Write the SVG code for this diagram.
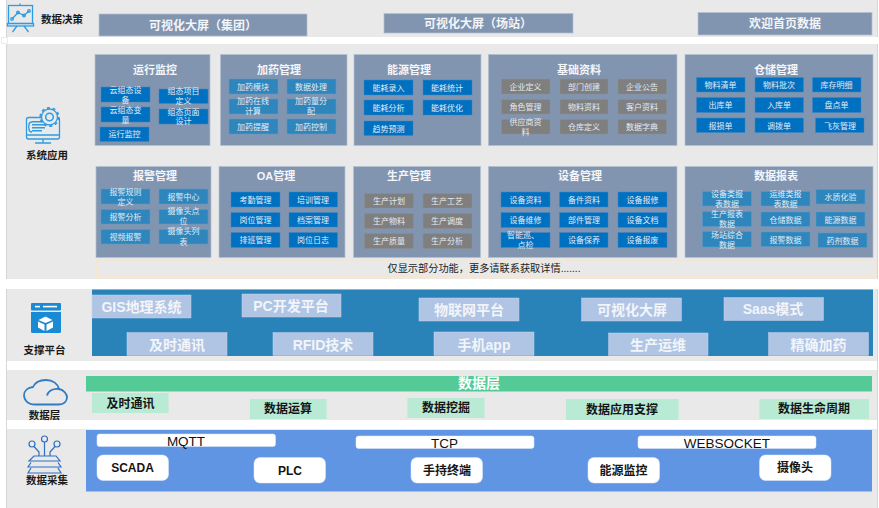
<svg xmlns="http://www.w3.org/2000/svg" width="879" height="508" viewBox="0 0 879 508">
<style>
text{font-family:"Liberation Sans","Noto Sans CJK SC",sans-serif;text-anchor:middle}
.band{fill:#e9e9e9}
.panel{fill:#8195b0;stroke:#b4c0d0;stroke-width:.7}
.pt{font-size:11px;font-weight:700;fill:#f4f6fa}
.top{fill:#8195b0;stroke:#b4c0d0;stroke-width:.7}
.tt{font-size:12px;font-weight:700;fill:#f2f4f8}
.a{fill:#0070c0;stroke:#3f86c4;stroke-width:.5}
.b{fill:#2e86bc;stroke:#5a9ccc;stroke-width:.5}
.g{fill:#7f7f7f;stroke:#8f8f8f;stroke-width:.5}
.t{font-size:8px;fill:#e4ebf4}
.lab{font-size:10.5px;font-weight:700;fill:#1a1a1a}
.sup{fill:#b0c4e4;stroke:#c2d2ea;stroke-width:.5}
.st{font-size:14px;font-weight:700;fill:#f2f5fa}
.dat{fill:#b8ead4}
.dt{font-size:12px;font-weight:700;fill:#151515}
.pro{fill:#fff;stroke:#dfe8f8;stroke-width:.5}
.prt{font-size:13.5px;fill:#111}
.nd{fill:#fff;stroke:#dfe8f8;stroke-width:.5}
.ic{fill:none;stroke:#2f9be0;stroke-width:1.3}
.ic2{fill:none;stroke:#2e7cc4;stroke-width:1.8}
.ic3{fill:none;stroke:#2f70c0;stroke-width:1.2}
</style>
<rect width="879" height="508" fill="#fff"/>
<g id="background">
<rect class="band" x="7" y="0" width="870" height="37"/>
<rect class="band" x="7" y="44" width="870" height="235"/>
<rect class="band" x="7" y="289" width="870" height="72"/>
<rect class="band" x="7" y="370" width="870" height="50"/>
<rect class="band" x="7" y="429" width="870" height="79"/>
<path d="M6.500 0V37M6.500 44V279M6.500 289V508M877.500 0V37M877.500 44V279M877.500 289V508" stroke="#d6d6d6" stroke-width="1" fill="none"/>
<rect x="1.500" y="37.500" width="6" height="6" fill="#fff" stroke="#e4e4e4" stroke-width=".7"/>
</g>

<g id="layer-decision">
<g id="icon-decision">
<rect class="ic" x="8.500" y="5.500" width="24" height="18"/>
<rect class="ic" x="7.500" y="23.500" width="26" height="2.500"/>
<path class="ic" d="M20 5V3.500M17 26L12.500 32M24 26L28.500 32M12 19L18 12.500L24 15.500L29 11"/>
<circle class="ic" cx="12" cy="19" r="1.300"/><circle class="ic" cx="18" cy="12.500" r="1.300"/><circle class="ic" cx="24" cy="15.500" r="1.300"/><circle class="ic" cx="29" cy="11" r="1.300"/>
</g>
<text class="lab" x="62" y="23">数据决策</text>
<g id="screen-group"><rect class="top" x="99" y="14" width="208" height="22"/><text class="tt" x="203" y="30">可视化大屏（集团）</text></g>
<g id="screen-station"><rect class="top" x="384" y="13.500" width="189" height="19.500"/><text class="tt" x="478" y="28">可视化大屏（场站）</text></g>
<g id="screen-home"><rect class="top" x="698" y="12.500" width="174" height="22.500"/><text class="tt" x="785" y="28">欢迎首页数据</text></g>
</g>

<g id="layer-apps">
<g id="icon-apps">
<rect class="ic" x="26.500" y="117.500" width="33" height="21.500" rx="2"/>
<path class="ic" d="M27 135H59M43 139V142.500M35 143H51"/>
<path class="ic" d="M32 122Q29 122 29 125Q29 127 28 127Q29 127 29 129Q29 132 32 132" />
<rect x="32" y="121" width="11" height="1.500" fill="#2f9be0"/><rect x="32" y="124" width="13" height="1.500" fill="#2f9be0"/><rect x="32" y="127" width="13" height="1.500" fill="#2f9be0"/><rect x="32" y="130" width="10" height="1.500" fill="#2f9be0"/>
<circle cx="49.500" cy="117" r="8" fill="#e9e9e9" stroke="#2f9be0" stroke-width="1.300"/>
<circle cx="49.500" cy="117" r="9.200" fill="none" stroke="#2f9be0" stroke-width="1.800" stroke-dasharray="3 2.780"/>
<circle cx="49.500" cy="117" r="3.800" fill="none" stroke="#2f9be0" stroke-width="1.500"/>
</g>
<text class="lab" x="47" y="159">系统应用</text>

<g id="panel-monitor"><rect class="panel" x="95" y="54.500" width="115" height="91"/><text class="pt" x="155" y="74">运行监控</text>
<rect class="a" x="101" y="87" width="49" height="15"/><text class="t" x="125.500" y="93">云组态设</text><text class="t" x="125.500" y="103">备</text>
<rect class="a" x="159" y="89" width="49" height="14.500"/><text class="t" x="183.500" y="94">组态项目</text><text class="t" x="183.500" y="104">定义</text>
<rect class="a" x="101" y="107" width="49" height="15"/><text class="t" x="125.500" y="113">云组态变</text><text class="t" x="125.500" y="123">量</text>
<rect class="a" x="159" y="109" width="49" height="15"/><text class="t" x="183.500" y="115">组态页面</text><text class="t" x="183.500" y="124">设计</text>
<rect class="a" x="100" y="127" width="49" height="14.500"/><text class="t" x="124.500" y="137">运行监控</text>
</g>

<g id="panel-dosing"><rect class="panel" x="220.500" y="54.500" width="126.500" height="91"/><text class="pt" x="279" y="74">加药管理</text>
<rect class="b" x="229" y="79" width="49" height="15"/><text class="t" x="253" y="89.500">加药模块</text>
<rect class="b" x="287" y="79" width="49" height="15"/><text class="t" x="311" y="89.500">数据处理</text>
<rect class="b" x="229" y="99" width="49" height="15"/><text class="t" x="253" y="104">加药在线</text><text class="t" x="253" y="114">计算</text>
<rect class="b" x="287" y="99" width="49" height="15"/><text class="t" x="311" y="104">加药量分</text><text class="t" x="311" y="114">配</text>
<rect class="b" x="229" y="119" width="49" height="15"/><text class="t" x="253" y="129.500">加药提醒</text>
<rect class="b" x="287" y="119" width="49" height="15"/><text class="t" x="311" y="129.500">加药控制</text>
</g>

<g id="panel-energy"><rect class="panel" x="354" y="54.500" width="127" height="91"/><text class="pt" x="409" y="74">能源管理</text>
<rect class="a" x="364" y="80" width="49" height="15"/><text class="t" x="388.500" y="91">能耗录入</text>
<rect class="a" x="423" y="80" width="49" height="15"/><text class="t" x="447" y="91">能耗统计</text>
<rect class="a" x="364" y="100" width="49" height="15"/><text class="t" x="388.500" y="111">能耗分析</text>
<rect class="a" x="423" y="100" width="49" height="15"/><text class="t" x="447" y="111">能耗优化</text>
<rect class="a" x="364" y="121" width="49" height="14.500"/><text class="t" x="388.500" y="131.500">趋势预测</text>
</g>

<g id="panel-basic"><rect class="panel" x="488.500" y="54.500" width="188.500" height="91"/><text class="pt" x="579" y="74">基础资料</text>
<rect class="g" x="501.500" y="79" width="48.500" height="15"/><text class="t" x="525.500" y="89.500">企业定义</text>
<rect class="g" x="560" y="79" width="48" height="15"/><text class="t" x="584" y="89.500">部门创建</text>
<rect class="g" x="618" y="79" width="48.500" height="15"/><text class="t" x="642" y="89.500">企业公告</text>
<rect class="g" x="501.500" y="99.500" width="48.500" height="14.500"/><text class="t" x="525.500" y="110">角色管理</text>
<rect class="g" x="560" y="99.500" width="48" height="14.500"/><text class="t" x="584" y="110">物料资料</text>
<rect class="g" x="618" y="99.500" width="48.500" height="14.500"/><text class="t" x="642" y="110">客户资料</text>
<rect class="g" x="501.500" y="119.500" width="48.500" height="14.500"/><text class="t" x="525.500" y="125">供应商资</text><text class="t" x="525.500" y="135">料</text>
<rect class="g" x="560" y="119.500" width="48" height="14.500"/><text class="t" x="584" y="130">仓库定义</text>
<rect class="g" x="618" y="119.500" width="48.500" height="14.500"/><text class="t" x="642" y="130">数据字典</text>
</g>

<g id="panel-storage"><rect class="panel" x="685" y="54.500" width="188" height="91"/><text class="pt" x="776" y="74">仓储管理</text>
<rect class="a" x="696.500" y="77.500" width="48.500" height="14.500"/><text class="t" x="720.500" y="88">物料清单</text>
<rect class="a" x="755" y="77.500" width="48.500" height="14.500"/><text class="t" x="779" y="88">物料批次</text>
<rect class="a" x="812.500" y="77.500" width="48.500" height="14.500"/><text class="t" x="836.500" y="88">库存明细</text>
<rect class="a" x="696.500" y="97.500" width="48.500" height="15"/><text class="t" x="720.500" y="108">出库单</text>
<rect class="a" x="755" y="97.500" width="48.500" height="15"/><text class="t" x="779" y="108">入库单</text>
<rect class="a" x="812.500" y="97.500" width="48.500" height="15"/><text class="t" x="836.500" y="108">盘点单</text>
<rect class="a" x="696.500" y="118" width="48.500" height="14.500"/><text class="t" x="720.500" y="128.500">报损单</text>
<rect class="a" x="755" y="118" width="48.500" height="14.500"/><text class="t" x="779" y="128.500">调拨单</text>
<rect class="a" x="815.500" y="118" width="48.500" height="14.500"/><text class="t" x="840" y="128.500">飞灰管理</text>
</g>

<g id="panel-alarm"><rect class="panel" x="96" y="166.500" width="115" height="91"/><text class="pt" x="155" y="180">报警管理</text>
<rect class="b" x="101" y="189" width="49" height="15"/><text class="t" x="125.500" y="195">报警规则</text><text class="t" x="125.500" y="205">定义</text>
<rect class="b" x="159" y="189" width="49" height="15"/><text class="t" x="183.500" y="200">报警中心</text>
<rect class="b" x="101" y="209.500" width="49" height="14.500"/><text class="t" x="125.500" y="220">报警分析</text>
<rect class="b" x="159" y="209.500" width="49" height="14.500"/><text class="t" x="183.500" y="214">摄像头点</text><text class="t" x="183.500" y="224">位</text>
<rect class="b" x="101" y="229.500" width="49" height="14.500"/><text class="t" x="125.500" y="240">视频报警</text>
<rect class="b" x="159" y="229.500" width="49" height="14.500"/><text class="t" x="183.500" y="234">摄像头列</text><text class="t" x="183.500" y="245">表</text>
</g>

<g id="panel-oa"><rect class="panel" x="219" y="166.500" width="126" height="91"/><text class="pt" x="276" y="180">OA管理</text>
<rect class="a" x="231" y="192" width="49" height="15"/><text class="t" x="255.500" y="202.500">考勤管理</text>
<rect class="a" x="289" y="192" width="48.500" height="15"/><text class="t" x="313" y="202.500">培训管理</text>
<rect class="a" x="231" y="212.500" width="49" height="14.500"/><text class="t" x="255.500" y="223">岗位管理</text>
<rect class="a" x="289" y="212.500" width="48.500" height="14.500"/><text class="t" x="313" y="223">档案管理</text>
<rect class="a" x="231" y="232.500" width="49" height="15"/><text class="t" x="255.500" y="243">排班管理</text>
<rect class="a" x="289" y="232.500" width="48.500" height="15"/><text class="t" x="313" y="243">岗位日志</text>
</g>

<g id="panel-production"><rect class="panel" x="353.500" y="166.500" width="127" height="91"/><text class="pt" x="409" y="180">生产管理</text>
<rect class="g" x="364.500" y="193.500" width="49" height="14.500"/><text class="t" x="389" y="204">生产计划</text>
<rect class="g" x="423" y="193.500" width="49" height="14.500"/><text class="t" x="447" y="204">生产工艺</text>
<rect class="g" x="364.500" y="213.500" width="49" height="15"/><text class="t" x="389" y="224">生产物料</text>
<rect class="g" x="423" y="213.500" width="49" height="15"/><text class="t" x="447" y="224">生产调度</text>
<rect class="g" x="364.500" y="233.500" width="49" height="15"/><text class="t" x="389" y="244">生产质量</text>
<rect class="g" x="423" y="233.500" width="49" height="15"/><text class="t" x="447" y="244">生产分析</text>
</g>

<g id="panel-equipment"><rect class="panel" x="488.500" y="166.500" width="188.500" height="91"/><text class="pt" x="580" y="180">设备管理</text>
<rect class="a" x="501" y="192" width="49" height="15"/><text class="t" x="525.500" y="203">设备资料</text>
<rect class="a" x="559.500" y="192" width="48.500" height="15"/><text class="t" x="584" y="203">备件资料</text>
<rect class="a" x="618" y="192" width="49" height="15"/><text class="t" x="642.500" y="203">设备报修</text>
<rect class="a" x="501" y="212.500" width="49" height="15"/><text class="t" x="525.500" y="223">设备维修</text>
<rect class="a" x="559.500" y="212.500" width="48.500" height="15"/><text class="t" x="584" y="223">部件管理</text>
<rect class="a" x="618" y="212.500" width="49" height="15"/><text class="t" x="642.500" y="223">设备文档</text>
<rect class="a" x="501" y="232.500" width="49" height="15"/><text class="t" x="523" y="238">智能巡、</text><text class="t" x="525.500" y="248">点检</text>
<rect class="a" x="559.500" y="232.500" width="48.500" height="15"/><text class="t" x="584" y="243">设备保养</text>
<rect class="a" x="618" y="232.500" width="49" height="15"/><text class="t" x="642.500" y="243">设备报废</text>
</g>

<g id="panel-report"><rect class="panel" x="685" y="166.500" width="188" height="91"/><text class="pt" x="776" y="180">数据报表</text>
<rect class="b" x="702.500" y="191.500" width="49" height="14.500"/><text class="t" x="727" y="197">设备类报</text><text class="t" x="727" y="207">表数据</text>
<rect class="b" x="761" y="191.500" width="49" height="14.500"/><text class="t" x="785.500" y="197">运维类报</text><text class="t" x="785.500" y="207">表数据</text>
<rect class="b" x="816" y="189.500" width="49" height="14.500"/><text class="t" x="840.500" y="200">水质化验</text>
<rect class="b" x="702.500" y="211.500" width="49" height="15"/><text class="t" x="727" y="217">生产报表</text><text class="t" x="727" y="227">数据</text>
<rect class="b" x="761" y="212" width="49" height="14.500"/><text class="t" x="785.500" y="222.500">仓储数据</text>
<rect class="b" x="816" y="212" width="49" height="14.500"/><text class="t" x="840.500" y="222.500">能源数据</text>
<rect class="b" x="702.500" y="231.500" width="49" height="15.500"/><text class="t" x="727" y="238">场站综合</text><text class="t" x="727" y="248">数据</text>
<rect class="b" x="761" y="232" width="49" height="14.500"/><text class="t" x="785.500" y="242.500">报警数据</text>
<rect class="b" x="818" y="233" width="49" height="14.500"/><text class="t" x="842.500" y="244">药剂数据</text>
</g>

<g id="note"><rect x="96.500" y="260" width="780" height="16.500" fill="none" stroke="#f8e6cc" stroke-width="1"/><text x="484" y="272" font-size="10.200" fill="#222">仅显示部分功能，更多请联系获取详情.......</text></g>
</g>

<g id="layer-platform">
<g id="icon-platform">
<rect x="31" y="303" width="30" height="7.500" rx="1" fill="#1a8ad4"/>
<rect x="35" y="305.800" width="5" height="1.600" fill="#fff"/><rect x="43" y="305.800" width="14" height="1.600" fill="#fff"/>
<path d="M31 312H61V331.500Q61 333 59.500 333H32.500Q31 333 31 331.500Z" fill="#1a8ad4"/>
<path d="M45.500 316.500L38.500 320L45.500 323L52.500 320ZM38 321.500L44.500 324.500V331L38 327.500ZM53 321.500L46.500 324.500V331L53 327.500Z" fill="#fff"/>
</g>
<text class="lab" x="44.500" y="354">支撑平台</text>
<rect x="92" y="289.500" width="781" height="66.500" fill="#2a83b8"/>
<g id="p-gis"><rect class="sup" x="92" y="295" width="99" height="23"/><text class="st" x="141.500" y="312">GIS地理系统</text></g>
<g id="p-pc"><rect class="sup" x="242" y="294" width="99" height="23"/><text class="st" x="291" y="310.500">PC开发平台</text></g>
<g id="p-iot"><rect class="sup" x="419" y="298" width="100" height="23"/><text class="st" x="469" y="315">物联网平台</text></g>
<g id="p-screen"><rect class="sup" x="581.500" y="298" width="100" height="23"/><text class="st" x="632" y="314.500">可视化大屏</text></g>
<g id="p-saas"><rect class="sup" x="724" y="297.500" width="99.500" height="23"/><text class="st" x="773" y="314">Saas模式</text></g>
<g id="p-im"><rect class="sup" x="127" y="332.500" width="100" height="23"/><text class="st" x="177" y="349.500">及时通讯</text></g>
<g id="p-rfid"><rect class="sup" x="273" y="332.500" width="100" height="23"/><text class="st" x="323" y="349.500">RFID技术</text></g>
<g id="p-app"><rect class="sup" x="434" y="332" width="100" height="23.500"/><text class="st" x="484" y="349.500">手机app</text></g>
<g id="p-ops"><rect class="sup" x="608.500" y="333" width="99.500" height="22.500"/><text class="st" x="658" y="349.500">生产运维</text></g>
<g id="p-dosing"><rect class="sup" x="768.500" y="332.500" width="100" height="23"/><text class="st" x="818.500" y="349.500">精确加药</text></g>
</g>

<g id="layer-data">
<g id="icon-data"><path class="ic2" d="M35 404.500C27 404.500 24 399 24 395.500C24 390.500 28 387.500 33 387C35 382.500 40 380 46 380C53 380 58 384 59 389C64 390 67 394 67 397.500C67 401 64 404.500 59 404.500Z"/><path class="ic2" d="M47 395.500C48 391 53 388 59 389"/></g>
<text class="lab" x="44.500" y="419">数据层</text>
<g id="data-title"><rect x="86" y="376" width="786" height="15.500" fill="#54cb96"/><text x="479" y="388" font-size="14" font-weight="700" fill="#fff">数据层</text></g>
<g id="d-im"><rect class="dat" x="92" y="393" width="76.500" height="20"/><text class="dt" x="130.500" y="408">及时通讯</text></g>
<g id="d-calc"><rect class="dat" x="250" y="399" width="76.500" height="20"/><text class="dt" x="288" y="413">数据运算</text></g>
<g id="d-mine"><rect class="dat" x="407.500" y="398" width="77" height="20"/><text class="dt" x="446" y="412">数据挖掘</text></g>
<g id="d-support"><rect class="dat" x="566" y="399" width="112.500" height="21"/><text class="dt" x="622" y="414">数据应用支撑</text></g>
<g id="d-life"><rect class="dat" x="759.500" y="399" width="109.500" height="20"/><text class="dt" x="814" y="413">数据生命周期</text></g>
</g>

<g id="layer-collect">
<g id="icon-collect">
<circle class="ic3" cx="32" cy="444" r="3"/><circle class="ic3" cx="44.500" cy="439" r="3"/><circle class="ic3" cx="57" cy="444" r="3"/>
<path class="ic3" d="M34 446.500L39 452V456M44.500 442V456M55 446.500L50 452V456M34 456H56L60 461H29ZM31 462.500L28 467H61L58 462.500M31 468L28 473H61L58 468"/>
</g>
<text class="lab" x="47" y="484">数据采集</text>
<rect x="86" y="430" width="786" height="61.500" fill="#5f95e3"/>
<g id="proto-mqtt"><rect class="pro" x="97" y="434" width="178.500" height="12.500" rx="2.500"/><text class="prt" x="186" y="446">MQTT</text></g>
<g id="proto-tcp"><rect class="pro" x="356" y="436" width="178" height="12.500" rx="2.500"/><text class="prt" x="444.500" y="447.500">TCP</text></g>
<g id="proto-ws"><rect class="pro" x="638" y="436" width="178" height="12.500" rx="2.500"/><text class="prt" x="727" y="447.500">WEBSOCKET</text></g>
<g id="src-scada"><rect class="nd" x="97" y="455" width="71.500" height="25.500" rx="6"/><text class="dt" x="132.500" y="472">SCADA</text></g>
<g id="src-plc"><rect class="nd" x="254" y="457.500" width="71.500" height="25.500" rx="6"/><text class="dt" x="290" y="475">PLC</text></g>
<g id="src-handheld"><rect class="nd" x="411" y="457.500" width="71.500" height="25.500" rx="6"/><text class="dt" x="447" y="475">手持终端</text></g>
<g id="src-energy"><rect class="nd" x="588" y="457.500" width="71.500" height="25.500" rx="6"/><text class="dt" x="623.500" y="475">能源监控</text></g>
<g id="src-camera"><rect class="nd" x="759.500" y="455" width="71.500" height="25.500" rx="6"/><text class="dt" x="795" y="472">摄像头</text></g>
</g>
</svg>
